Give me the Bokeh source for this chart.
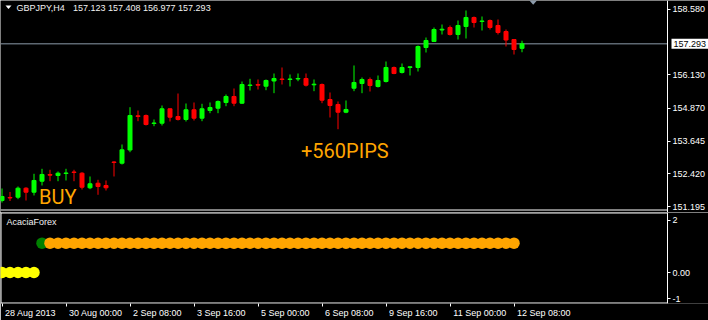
from bokeh.plotting import figure
from bokeh.layouts import column
from bokeh.models import (ColumnDataSource, FixedTicker, PrintfTickFormatter, Label, Range1d,
                          LinearAxis)
from bokeh.embed import file_html
from bokeh.resources import INLINE

# ---------------- data ----------------
symbol = "GBPJPY,H4"

opens = [151.421, 151.534, 151.545, 151.882, 151.732, 152.144, 152.396, 152.358, 152.433, 152.489,
         152.444, 151.897, 152.069, 151.983, 152.864, 152.819, 153.314, 154.596, 154.607, 154.307,
         154.318, 154.858, 154.569, 154.457, 154.820, 154.506, 154.794, 154.880, 155.094, 155.319,
         155.068, 155.731, 155.769, 155.705, 155.900, 155.975, 155.956, 155.975, 155.994, 155.757,
         155.769, 155.206, 155.019, 154.730, 155.630, 155.806, 155.956, 155.694, 155.881, 156.406,
         156.219, 156.406, 156.406, 157.155, 157.380, 157.811, 157.905, 157.643, 157.942, 158.280,
         158.130, 158.167, 157.980, 157.755, 157.455, 157.123]
highs = [151.871, 151.740, 151.946, 151.919, 152.422, 152.609, 152.572, 152.508, 152.609, 152.572,
         152.482, 152.321, 152.197, 152.171, 152.894, 153.520, 154.918, 154.794, 154.644, 154.457,
         154.982, 154.870, 155.431, 155.057, 155.094, 155.045, 155.094, 155.169, 155.394, 155.619,
         155.881, 155.982, 155.956, 155.956, 156.181, 156.406, 156.144, 156.181, 156.181, 155.956,
         155.806, 155.469, 155.132, 155.169, 156.481, 156.031, 156.031, 156.106, 156.631, 156.443,
         156.556, 156.443, 157.230, 157.530, 157.905, 158.017, 157.980, 158.167, 158.542, 158.317,
         158.317, 158.205, 158.205, 157.830, 157.470, 157.408]
lows = [151.346, 151.402, 151.470, 151.421, 151.609, 151.983, 152.144, 152.144, 152.171, 152.144,
        151.833, 151.845, 151.635, 151.796, 152.321, 152.770, 153.231, 154.393, 154.232, 154.206,
        154.232, 154.382, 154.419, 154.382, 154.419, 154.393, 154.693, 154.693, 154.955, 154.955,
        155.038, 155.544, 155.581, 155.555, 155.443, 155.769, 155.694, 155.892, 155.694, 155.518,
        155.068, 154.532, 154.093, 154.693, 155.518, 155.443, 155.506, 155.656, 155.844, 156.155,
        156.181, 156.106, 156.256, 156.968, 157.362, 157.643, 157.605, 157.455, 157.493, 157.905,
        157.793, 157.830, 157.643, 157.193, 156.893, 156.977]
closes = [151.571, 151.515, 151.882, 151.732, 152.171, 152.396, 152.369, 152.444, 152.452, 152.471,
          151.919, 152.047, 151.946, 151.897, 152.845, 153.321, 154.607, 154.569, 154.269, 154.326,
          154.858, 154.543, 154.457, 154.820, 154.506, 154.858, 154.907, 155.132, 155.319, 155.068,
          155.769, 155.750, 155.743, 155.919, 155.994, 155.956, 155.975, 155.994, 155.743, 155.780,
          155.180, 154.982, 154.730, 154.832, 155.844, 155.956, 155.731, 155.919, 156.406, 156.181,
          156.406, 156.432, 157.193, 157.418, 157.830, 157.841, 157.643, 157.980, 158.280, 158.092,
          158.149, 157.905, 157.718, 157.436, 157.080, 157.293]

price_ticks = [158.580, 156.130, 154.870, 153.645, 152.420, 151.195]

time_tick_bars = [0, 8, 16, 24, 32, 40, 48, 56, 64]
time_tick_labels = ["28 Aug 2013", "30 Aug 00:00", "2 Sep 08:00", "3 Sep 16:00", "5 Sep 00:00",
                    "6 Sep 08:00", "9 Sep 16:00", "11 Sep 00:00", "12 Sep 08:00"]

# indicator dots per bar: Y = yellow, G = green, O = orange
sig_state = ["Y", "Y", "Y", "Y", "Y", "G", "O", "O", "O", "O",
             "O", "O", "O", "O", "O", "O", "O", "O", "O", "O",
             "O", "O", "O", "O", "O", "O", "O", "O", "O", "O",
             "O", "O", "O", "O", "O", "O", "O", "O", "O", "O",
             "O", "O", "O", "O", "O", "O", "O", "O", "O", "O",
             "O", "O", "O", "O", "O", "O", "O", "O", "O", "O",
             "O", "O", "O", "O", "O"]
sig_level = {"Y": 0.0, "G": 1.12, "O": 1.12}
sig_color = {"Y": "#ffff00", "G": "#008000", "O": "#ffa500"}

ind_ticks = [2, 0, -1]
ind_tick_labels = ["2", "0.00", "-1"]

buy_text = "BUY"
pips_text = "+560PIPS"
indicator_name = "AcaciaForex"

# ---------------- layout helpers ----------------
W = 708
AXIS_X = 667                # x of the price axis line
BAR_PX = 8.0
X0_PX = 1.5
MAIN_H = 212
IND_H = 108
IND_FRAME_H = 92
PX_PER_PRICE = 26.68
PRICE_TOP = 158.917
IND_TOP, IND_BOT = 2.29, -1.18
FONT = "Liberation Sans"
FS = "9px"
TXT = "#f2f2f2"


def bx(px):
    return (px - X0_PX) / BAR_PX


def py_main(py):
    return PRICE_TOP - py / PX_PER_PRICE


def py_ind(py):  # py: px below the indicator frame top
    return IND_TOP - py * (IND_TOP - IND_BOT) / IND_FRAME_H


def style_axis(ax):
    ax.axis_line_color = "white"
    ax.major_tick_line_color = "white"
    ax.major_tick_out = 3
    ax.major_tick_in = 0
    ax.minor_tick_line_color = None
    ax.major_label_text_color = "white"
    ax.major_label_text_font = FONT
    ax.major_label_text_font_size = FS
    ax.major_label_standoff = 2


x_range = Range1d(bx(0), bx(W))

n = len(closes)
colors = ["#00ff00" if c >= o else "#ff0000" for o, c in zip(opens, closes)]
src = ColumnDataSource(dict(
    x=list(range(n)), open=opens, close=closes, high=highs, low=lows,
    top=[max(o, c) for o, c in zip(opens, closes)],
    bottom=[min(o, c) for o, c in zip(opens, closes)],
    color=colors,
))

# ---------------- main chart (frame spans whole width, price axis fixed inside) ----------------
p = figure(width=W, height=MAIN_H, x_range=x_range,
           y_range=Range1d(py_main(MAIN_H), PRICE_TOP),
           output_backend="svg", toolbar_location=None,
           x_axis_location=None, y_axis_location=None,
           background_fill_color="black", border_fill_color="black",
           outline_line_color=None,
           min_border_left=0, min_border_top=0, min_border_bottom=0, min_border_right=0)
p.grid.visible = False

ya = LinearAxis(fixed_location=bx(AXIS_X))
ya.ticker = FixedTicker(ticks=price_ticks)
ya.formatter = PrintfTickFormatter(format="%.3f")
style_axis(ya)
p.add_layout(ya, "right")

# current price line and bottom border of the main window (both end at the price axis)
p.segment(x0=[bx(0)], x1=[bx(AXIS_X)], y0=[closes[-1]], y1=[closes[-1]],
          line_color="#8c9bab", line_width=1)
p.segment(x0=[bx(0)], x1=[bx(AXIS_X)], y0=[py_main(209.5)], y1=[py_main(209.5)],
          line_color="white", line_width=1)

p.segment(x0="x", y0="low", x1="x", y1="high", source=src, line_color="color", line_width=1)
p.vbar(x="x", width=4.0 / BAR_PX, top="top", bottom="bottom", source=src,
       fill_color="color", line_color="color", line_width=1)

# chart-shift marker (gray flat triangle at top), placed past the last bar
shift_bar = n - 1 + 1.4
p.patch(x=[shift_bar - 4.2 / BAR_PX, shift_bar + 4.2 / BAR_PX, shift_bar],
        y=[py_main(-0.5), py_main(-0.5), py_main(4.2)], fill_color="#8c9bab", line_color=None)

# title
p.patch(x=[bx(5), bx(11), bx(8)], y=[py_main(5), py_main(5), py_main(8.5)],
        fill_color="white", line_color=None)
p.add_layout(Label(x=bx(16), y=py_main(7.5), text=symbol, text_color=TXT,
                   text_font=FONT, text_font_size=FS, text_baseline="middle"))
p.add_layout(Label(x=bx(72.5), y=py_main(7.5),
                   text=" ".join("%.3f" % v for v in (opens[-1], highs[-1], lows[-1], closes[-1])),
                   text_color=TXT, text_font=FONT, text_font_size=FS, text_baseline="middle"))

# current price box on the price scale
p.add_layout(Label(x=bx(AXIS_X + 4), y=closes[-1], text="%.3f" % closes[-1],
                   text_color="black", text_font=FONT, text_font_size=FS,
                   text_baseline="middle", text_align="left",
                   background_fill_color="white", padding=2))

# annotations
p.add_layout(Label(x=bx(38.5), y=py_main(196), text=buy_text, text_color="#ffa500",
                   text_font="Roboto", text_font_size="20px", text_baseline="alphabetic"))
p.add_layout(Label(x=bx(300.5), y=py_main(150), text=pips_text, text_color="#ffa500",
                   text_font="Roboto", text_font_size="20px", text_baseline="alphabetic"))

# ---------------- indicator window ----------------
p2 = figure(width=W, height=IND_H, x_range=x_range,
            y_range=Range1d(IND_BOT, IND_TOP),
            output_backend="svg", toolbar_location=None,
            x_axis_location="below", y_axis_location=None,
            background_fill_color="black", border_fill_color="black",
            outline_line_color=None,
            min_border_left=0, min_border_top=0, min_border_bottom=IND_H - IND_FRAME_H,
            min_border_right=0)
p2.grid.visible = False

# window border (left, top, bottom); the right edge is the scale's axis line
p2.segment(x0=[bx(0), bx(0), bx(0.5)], x1=[bx(AXIS_X), bx(AXIS_X), bx(0.5)],
           y0=[py_ind(0.5), py_ind(IND_FRAME_H - 0.5), py_ind(0)],
           y1=[py_ind(0.5), py_ind(IND_FRAME_H - 0.5), py_ind(IND_FRAME_H)],
           line_color="white", line_width=1)

dsrc = ColumnDataSource(dict(
    x=list(range(len(sig_state))),
    y=[sig_level[s] for s in sig_state],
    c=[sig_color[s] for s in sig_state],
))
p2.scatter(x="x", y="y", size=11.5, fill_color="c", line_color=None, source=dsrc)

p2.add_layout(Label(x=bx(6), y=py_ind(9.5), text=indicator_name, text_color=TXT,
                    text_font=FONT, text_font_size=FS, text_baseline="middle"))

ra = LinearAxis(fixed_location=bx(AXIS_X))
ra.ticker = FixedTicker(ticks=ind_ticks)
ra.major_label_overrides = {t: l for t, l in zip(ind_ticks, ind_tick_labels)}
style_axis(ra)
p2.add_layout(ra, "right")

# time labels are drawn left-aligned after each tick, MT4 style
ARIAL_W = {" ": 278, ":": 278, "A": 667, "S": 667}


def text_w(s, size=9.0):
    return sum(ARIAL_W.get(ch, 556) for ch in s) / 1000.0 * size


label_centers = [round(b + (3 + text_w(s) / 2) / BAR_PX, 4)
                 for b, s in zip(time_tick_bars, time_tick_labels)]
xa = p2.xaxis[0]
xa.ticker = FixedTicker(ticks=label_centers, minor_ticks=time_tick_bars)
xa.major_label_overrides = {c: s for c, s in zip(label_centers, time_tick_labels)}
xa.axis_line_color = None
xa.major_tick_line_color = None
xa.major_tick_out = 0
xa.major_tick_in = 0
xa.minor_tick_line_color = "white"
xa.minor_tick_out = 3
xa.minor_tick_in = 0
xa.major_label_text_color = "white"
xa.major_label_text_font = FONT
xa.major_label_text_font_size = FS
xa.major_label_standoff = 1

layout = column(p, p2, spacing=0)
open("out.html", "w").write(file_html(layout, INLINE))
